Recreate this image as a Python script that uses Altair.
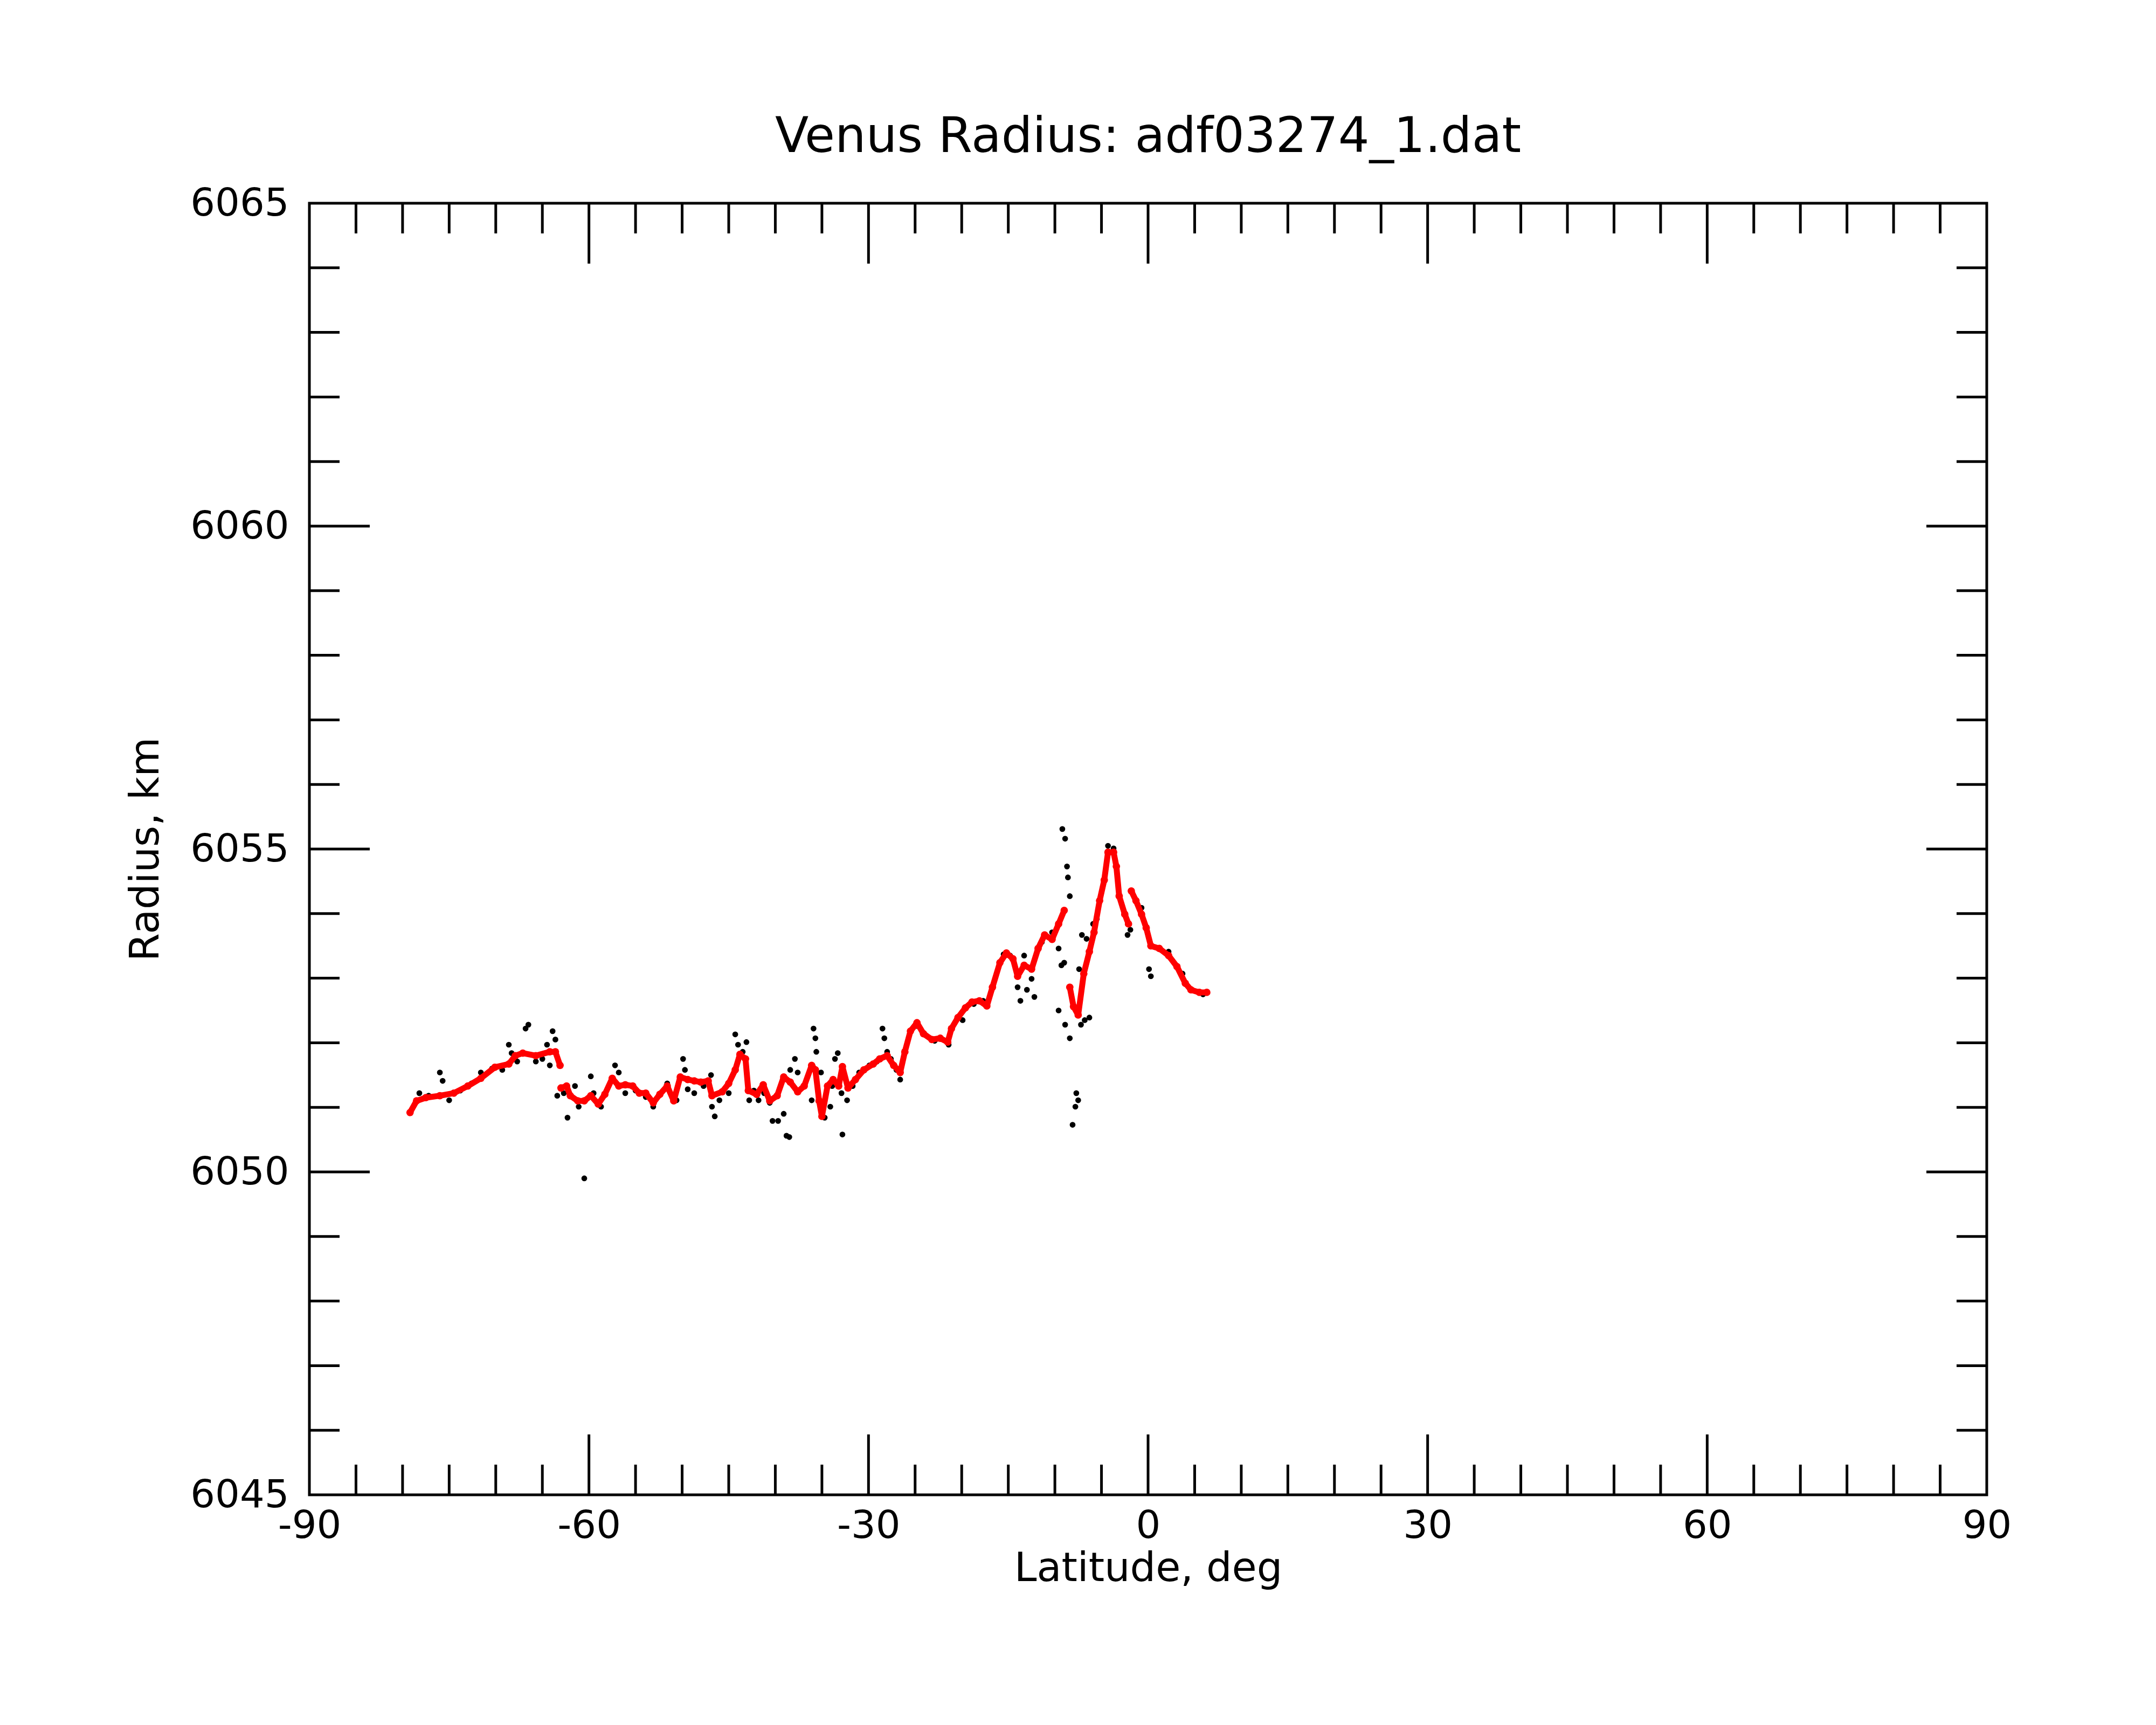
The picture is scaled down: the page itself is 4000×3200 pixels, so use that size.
import altair as alt
import pandas as pd

# ---- data ----
red_lat = [-79.2, -78.5, -77.5, -76.0, -74.5, -73.0, -71.6, -70.1, -68.6, -67.9, -67.1, -65.7, -64.2, -63.6,
           -63.1, -63.0, -62.4, -62.0, -61.2, -60.5, -59.8, -59.0, -58.3, -57.5, -56.8, -56.1, -55.3, -54.6,
           -53.9, -53.1, -52.4, -51.6, -50.9, -50.2, -49.4, -48.7, -48.0, -47.2, -46.8, -45.7, -45.0, -44.3,
           -43.8, -43.2, -42.9, -42.0, -41.3, -40.6, -39.8, -39.1, -38.4, -37.6, -36.9, -36.1, -35.7, -35.3,
           -35.0, -34.4, -33.8, -33.2, -32.8, -32.2, -31.4, -30.5, -29.5, -28.8, -28.0, -27.3, -26.6, -26.1,
           -25.5, -24.8, -24.1, -23.2, -22.3, -21.5, -21.1, -20.4, -19.6, -18.9, -18.1, -17.3, -16.7, -15.9,
           -15.2, -14.5, -14.0, -13.3, -12.5, -11.8, -11.1, -10.3, -9.6, -9.0, -8.4, -8.0, -7.5, -6.9, -6.3,
           -5.8, -5.2, -4.7, -4.3, -3.7, -3.4, -3.1, -2.5, -2.1, -1.8, -1.3, -0.7, -0.2, 0.3, 1.2, 2.2, 3.1,
           4.0, 4.6, 5.5, 6.3]
red_rad = [6050.92, 6051.10, 6051.15, 6051.18, 6051.22, 6051.33, 6051.45, 6051.62, 6051.67, 6051.80, 6051.84,
           6051.80, 6051.86, 6051.86, 6051.65, 6051.30, 6051.33, 6051.18, 6051.10, 6051.10, 6051.18, 6051.05,
           6051.20, 6051.45, 6051.33, 6051.35, 6051.33, 6051.22, 6051.22, 6051.07, 6051.20, 6051.33, 6051.10,
           6051.47, 6051.43, 6051.41, 6051.39, 6051.41, 6051.18, 6051.24, 6051.37, 6051.58, 6051.82, 6051.75,
           6051.26, 6051.20, 6051.35, 6051.10, 6051.18, 6051.47, 6051.39, 6051.24, 6051.33, 6051.65, 6051.58,
           6051.10, 6050.86, 6051.33, 6051.43, 6051.33, 6051.63, 6051.30, 6051.43, 6051.58, 6051.67, 6051.75,
           6051.80, 6051.65, 6051.54, 6051.86, 6052.18, 6052.31, 6052.14, 6052.05, 6052.07, 6052.01, 6052.22,
           6052.39, 6052.54, 6052.63, 6052.65, 6052.57, 6052.86, 6053.24, 6053.39, 6053.30, 6053.03, 6053.20,
           6053.14, 6053.46, 6053.67, 6053.60, 6053.84, 6054.05, 6052.86, 6052.56, 6052.43, 6053.07, 6053.41,
           6053.71, 6054.20, 6054.52, 6054.95, 6054.95, 6054.73, 6054.27, 6053.99, 6053.84, 6054.35, 6054.20,
           6053.99, 6053.78, 6053.50, 6053.46, 6053.35, 6053.18, 6052.92, 6052.82, 6052.78, 6052.78]
# contiguous runs of the smoothed (red) track
red_seg = [0] * 15 + [1] * 79 + [2] * 14 + [3] * 12

black_lat = [-78.2, -77.2, -76.0, -75.7, -75.0, -73.8, -72.6, -71.6, -70.4, -69.3, -68.6, -68.3, -67.7, -66.8,
             -66.5, -65.7, -65.0, -64.5, -63.9, -63.6, -64.2, -63.4, -62.7, -62.3, -61.5, -61.1, -60.5, -59.8,
             -59.5, -58.7, -57.2, -56.8, -56.1, -55.0, -53.9, -53.1, -51.6, -50.6, -49.9, -49.7, -49.4, -48.7,
             -47.7, -46.9, -46.8, -46.5, -46.0, -45.0, -44.3, -44.0, -43.5, -43.1, -42.8, -42.3, -41.8, -41.2,
             -40.6, -40.3, -39.7, -39.1, -38.8, -38.5, -38.4, -37.9, -37.6, -36.9, -36.1, -35.9, -35.7, -35.6,
             -35.1, -35.0, -34.7, -34.1, -33.9, -33.6, -33.3, -32.9, -32.8, -32.3, -31.7, -31.0, -29.9, -29.1,
             -28.5, -28.3, -28.0, -27.6, -27.0, -26.6, -24.8, -22.9, -21.4, -19.9, -18.7, -17.7, -15.5, -14.8,
             -14.0, -13.7, -13.3, -13.0, -12.5, -12.2, -11.4, -10.3, -9.6, -9.6, -9.3, -9.2, -8.9, -8.7, -8.6,
             -8.4, -9.0, -8.9, -8.4, -8.1, -7.8, -7.7, -7.5, -7.2, -6.8, -6.3, -7.4, -7.1, -6.6, -5.9, -5.5,
             -4.3, -3.7, -2.2, -1.9, -0.7, 0.1, 0.3, 2.2, 3.7, 5.9]
black_rad = [6051.22, 6051.18, 6051.54, 6051.41, 6051.11, 6051.26, 6051.37, 6051.54, 6051.60, 6051.58, 6051.97,
             6051.84, 6051.71, 6052.22, 6052.28, 6051.71, 6051.75, 6051.97, 6052.18, 6052.05, 6051.65, 6051.18,
             6051.22, 6050.84, 6051.33, 6051.01, 6049.90, 6051.48, 6051.22, 6051.01, 6051.65, 6051.54, 6051.22,
             6051.26, 6051.16, 6051.01, 6051.37, 6051.11, 6051.75, 6051.58, 6051.28, 6051.22, 6051.33, 6051.50,
             6051.01, 6050.86, 6051.11, 6051.22, 6052.13, 6051.97, 6051.86, 6052.01, 6051.11, 6051.26, 6051.11,
             6051.22, 6051.07, 6050.79, 6050.79, 6050.90, 6050.56, 6050.54, 6051.58, 6051.75, 6051.54, 6051.33,
             6051.11, 6052.22, 6052.07, 6051.86, 6051.54, 6050.86, 6050.84, 6051.01, 6051.33, 6051.75, 6051.84,
             6051.22, 6050.58, 6051.11, 6051.33, 6051.54, 6051.65, 6051.71, 6052.22, 6052.07, 6051.86, 6051.75,
             6051.58, 6051.43, 6052.26, 6052.03, 6051.97, 6052.35, 6052.60, 6052.65, 6053.37, 6053.35, 6052.86,
             6052.65, 6053.35, 6052.82, 6052.99, 6052.71, 6053.56, 6053.71, 6052.50, 6053.46, 6053.20, 6055.31,
             6055.16, 6054.73, 6054.56, 6054.27, 6053.24, 6052.28, 6052.07, 6050.73, 6051.01, 6051.22, 6051.11,
             6052.28, 6052.35, 6052.39, 6053.14, 6053.67, 6053.61, 6053.84, 6053.92, 6055.05, 6055.01, 6053.67,
             6053.75, 6054.09, 6053.14, 6053.03, 6053.41, 6053.07, 6052.75]

x_labels = [-90, -60, -30, 0, 30, 60, 90]
y_labels = [6045, 6050, 6055, 6060, 6065]
x_major = [-60, -30, 0, 30, 60]
x_minor = [v for v in range(-85, 90, 5) if v % 30 != 0]
y_major = [6050, 6055, 6060]
y_minor = [v for v in range(6046, 6065) if v % 5 != 0]

W, H = 3112, 2396
MAJ, MIN = 112, 56
FONT = "DejaVu Sans"
LFS = 72
TFS = 75
LW = 5

xs = alt.Scale(domain=[-90, 90], nice=False, zero=False)
ys = alt.Scale(domain=[6045, 6065], nice=False, zero=False)

x_axis = alt.Axis(values=x_labels, ticks=False, tickSize=0, domain=False, grid=False,
                  labelExpr="datum.value + ''", labelLimit=0,
                  labelFont=FONT, labelFontSize=LFS, labelColor="black", labelFlush=False,
                  labelOverlap=False, labelPadding=22, labelBaseline="top",
                  titleFont=FONT, titleFontSize=TFS, titleFontWeight="normal", titleColor="black",
                  titlePadding=7)
y_axis = alt.Axis(values=y_labels, ticks=False, tickSize=0, domain=False, grid=False,
                  labelExpr="datum.value + ''", labelLimit=0,
                  labelFont=FONT, labelFontSize=LFS, labelColor="black", labelFlush=False,
                  labelOverlap=False, labelPadding=38,
                  titleFont=FONT, titleFontSize=TFS, titleFontWeight="normal", titleColor="black",
                  titleBaseline="alphabetic", titlePadding=81)

XE = alt.X("lat:Q", scale=xs, title="Latitude, deg", axis=x_axis)
YE = alt.Y("rad:Q", scale=ys, title="Radius, km", axis=y_axis)

black_df = pd.DataFrame({"lat": black_lat, "rad": black_rad})
red_df = pd.DataFrame({"lat": red_lat, "rad": red_rad, "seg": red_seg})

black = alt.Chart(black_df).mark_circle(color="black", opacity=1, size=115).encode(x=XE, y=YE)
red_line = alt.Chart(red_df).mark_line(color="#ff0000", strokeWidth=11, strokeCap="round",
                                       strokeJoin="round").encode(x=XE, y=YE, detail="seg:N",
                                                                  order="lat:Q")
red = alt.Chart(red_df).mark_circle(color="#ff0000", opacity=1, size=190).encode(x=XE, y=YE)


def xticks(vals, length, top):
    df = pd.DataFrame({"lat": vals})
    if top:
        y0, y1 = 0, length
    else:
        y0, y1 = H, H - length
    return alt.Chart(df).mark_rule(color="black", strokeWidth=LW).encode(
        x=XE, y=alt.value(y0), y2=alt.value(y1))


def yticks(vals, length, right):
    df = pd.DataFrame({"rad": vals})
    if right:
        x0, x1 = W, W - length
    else:
        x0, x1 = 0, length
    return alt.Chart(df).mark_rule(color="black", strokeWidth=LW).encode(
        y=YE, x=alt.value(x0), x2=alt.value(x1))


ticks = [
    xticks(x_major, MAJ, False), xticks(x_major, MAJ, True),
    xticks(x_minor, MIN, False), xticks(x_minor, MIN, True),
    yticks(y_major, MAJ, False), yticks(y_major, MAJ, True),
    yticks(y_minor, MIN, False), yticks(y_minor, MIN, True),
]

chart = alt.layer(black, red_line, red, *ticks).properties(
    width=W, height=H,
    background="white",
    autosize=alt.AutoSizeParams(type="none"),
    padding={"left": 566, "top": 369, "right": 306, "bottom": 419},
    title=alt.TitleParams("Venus Radius: adf03274_1.dat", font=FONT, fontSize=91, fontWeight="normal",
                          color="black", anchor="middle", frame="group", baseline="alphabetic", offset=-32),
).configure_view(stroke="black", strokeWidth=LW)

chart.save("out.html", embed_options={"renderer": "svg", "actions": False})
